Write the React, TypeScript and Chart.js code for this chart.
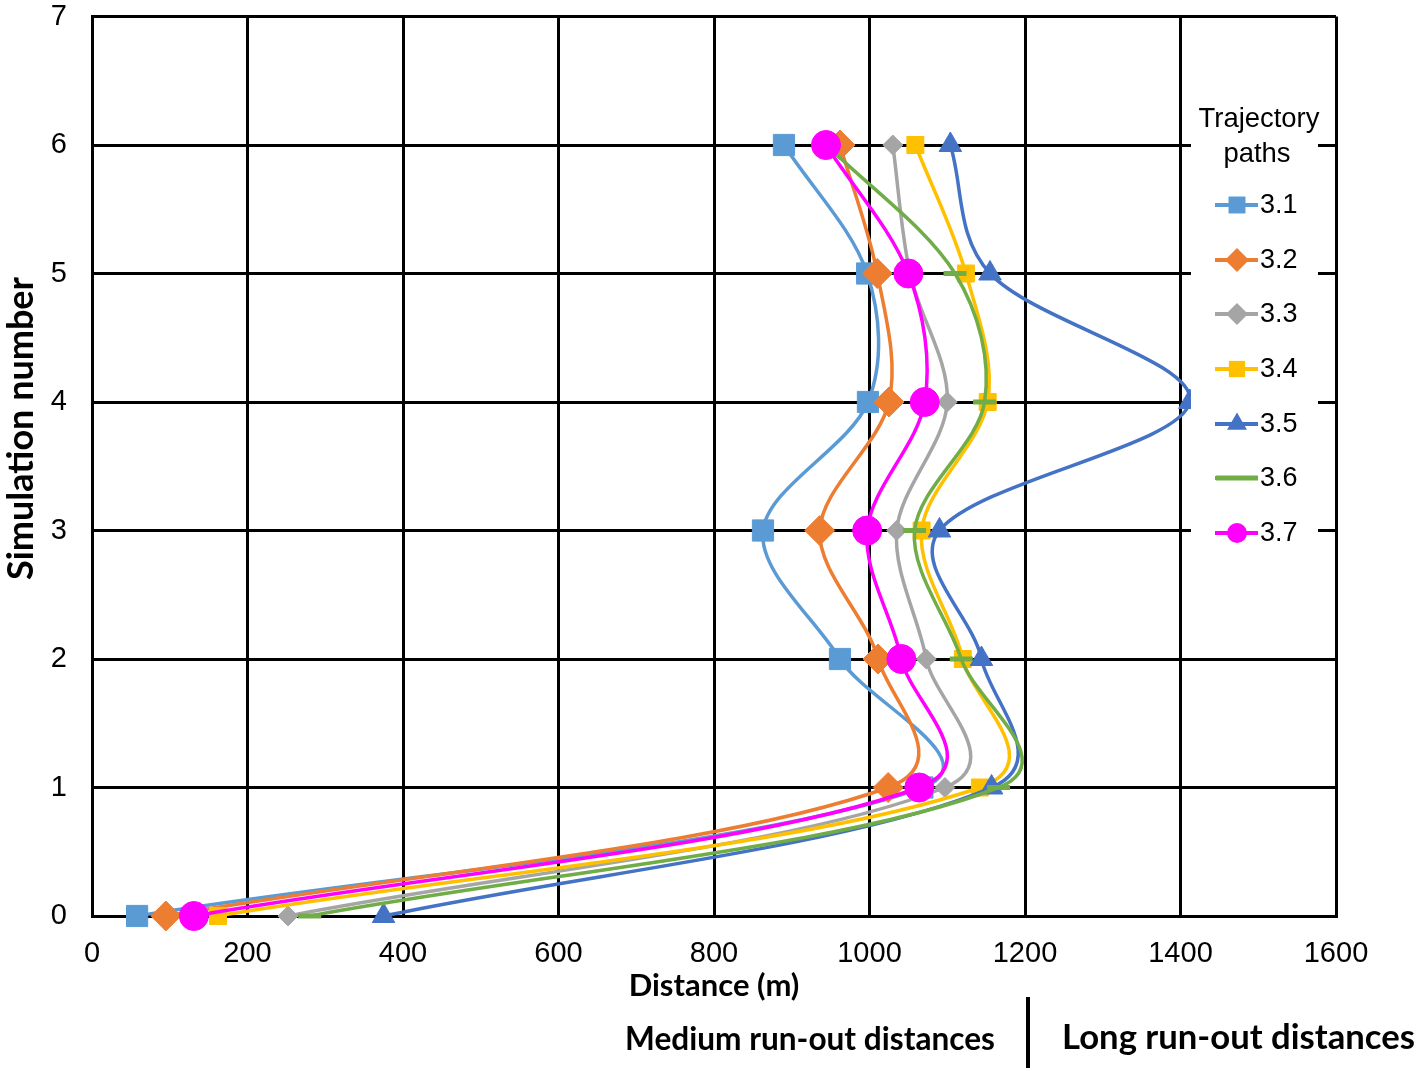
import React, { useEffect, useRef } from 'react';
import { Chart, registerables } from 'chart.js';

Chart.register(...registerables);

// ---- data ----
const simulationNumbers = [0, 1, 2, 3, 4, 5, 6];
const seriesNames = ['3.1', '3.2', '3.3', '3.4', '3.5', '3.6', '3.7'];
const path31 = [58, 1068, 962, 863, 998, 997, 890];
const path32 = [95, 1024, 1011, 936, 1025, 1010, 962];
const path33 = [252, 1097, 1073, 1035, 1100, 1052, 1030];
const path34 = [162, 1142, 1120, 1067, 1152, 1124, 1059];
const path35 = [375, 1157, 1144, 1090, 1412, 1155, 1104];
const path36 = [280, 1166, 1118, 1058, 1148, 1110, 945];
const path37 = [131, 1064, 1041, 997, 1071, 1050, 944];
const xTickValues = [0, 200, 400, 600, 800, 1000, 1200, 1400, 1600];
const yTickValues = [0, 1, 2, 3, 4, 5, 6, 7];

const allPaths = [path31, path32, path33, path34, path35, path36, path37];

// ---- styles ----
const colors = ['#5B9BD5', '#ED7D31', '#A5A5A5', '#FFC000', '#4472C4', '#70AD47', '#FF00FF'];
const pointStyles = ['rect', 'rectRot', 'rectRot', 'rect', 'triangle', 'line', 'circle'];
const pointRadii = [15, 15, 10, 12, 13, 11.5, 14.5];
const legendRadii = [12, 12, 11, 11.5, 11.5, 21, 10];
const SMOOTH = 0.33;

const W = 1418;
const H = 1071;

function drawMarker(ctx: CanvasRenderingContext2D, style: string, x: number, y: number, r: number, color: string) {
  ctx.save();
  ctx.fillStyle = color;
  ctx.strokeStyle = color;
  ctx.beginPath();
  if (style === 'rect') {
    const s = r * Math.SQRT1_2;
    ctx.rect(x - s, y - s, 2 * s, 2 * s);
    ctx.fill();
  } else if (style === 'rectRot') {
    ctx.moveTo(x, y - r);
    ctx.lineTo(x + r, y);
    ctx.lineTo(x, y + r);
    ctx.lineTo(x - r, y);
    ctx.closePath();
    ctx.fill();
  } else if (style === 'triangle') {
    ctx.moveTo(x, y - r);
    ctx.lineTo(x + r * Math.sin(2 * Math.PI / 3), y - r * Math.cos(2 * Math.PI / 3));
    ctx.lineTo(x + r * Math.sin(4 * Math.PI / 3), y - r * Math.cos(4 * Math.PI / 3));
    ctx.closePath();
    ctx.fill();
  } else if (style === 'circle') {
    ctx.arc(x, y, r, 0, Math.PI * 2);
    ctx.fill();
  } else if (style === 'line') {
    ctx.lineWidth = 5;
    ctx.moveTo(x - r, y);
    ctx.lineTo(x + r, y);
    ctx.stroke();
  }
  ctx.restore();
}

function fitText(
  ctx: CanvasRenderingContext2D,
  text: string,
  x: number,
  y: number,
  targetWidth: number,
  weight: string,
  family: string,
) {
  ctx.font = `${weight} 100px ${family}`;
  const w = ctx.measureText(text).width;
  const size = (100 * targetWidth) / w;
  ctx.font = `${weight} ${size.toFixed(2)}px ${family}`;
  ctx.fillText(text, x, y);
}

// Excel-like smoothing: centripetal-weighted control points computed from the
// element positions that Chart.js placed through its scales.
const smoothPlugin = {
  id: 'excelSmooth',
  beforeDatasetsDraw(chart: any) {
    chart.data.datasets.forEach((_ds: any, i: number) => {
      const meta = chart.getDatasetMeta(i);
      const line = meta.dataset;
      const pts = meta.data;
      if (!line || !pts || pts.length < 2) return;
      for (let k = 0; k < pts.length; k++) {
        const p1 = pts[k];
        const p0 = pts[k - 1] || p1;
        const p2 = pts[k + 1] || p1;
        const d01 = Math.sqrt(Math.hypot(p1.x - p0.x, p1.y - p0.y));
        const d12 = Math.sqrt(Math.hypot(p2.x - p1.x, p2.y - p1.y));
        const sum = d01 + d12 || 1;
        const fa = (SMOOTH * d01) / sum;
        const fb = (SMOOTH * d12) / sum;
        const dx = p2.x - p0.x;
        const dy = p2.y - p0.y;
        p1.cp1x = p1.x - fa * dx;
        p1.cp1y = p1.y - fa * dy;
        p1.cp2x = p1.x + fb * dx;
        p1.cp2y = p1.y + fb * dy;
      }
      line._pointsUpdated = true;
      line._path = undefined;
    });
  },
};

const decorPlugin = {
  id: 'decor',
  afterDraw(chart: any) {
    const ctx: CanvasRenderingContext2D = chart.ctx;
    const sans = '"Liberation Sans", Arial, sans-serif';
    const bold = 'Lato, "Liberation Sans", sans-serif';
    ctx.save();
    // Legend box
    ctx.fillStyle = '#ffffff';
    ctx.fillRect(1191, 96, 127, 462);
    ctx.fillStyle = '#000';
    ctx.textAlign = 'center';
    ctx.textBaseline = 'middle';
    fitText(ctx, 'Trajectory', 1259, 119, 121, 'normal', sans);
    ctx.fillText('paths', 1257, 154);
    const rowY = [205, 260, 314, 369, 424, 478, 533];
    seriesNames.forEach((name, i) => {
      const y = rowY[i];
      ctx.save();
      ctx.strokeStyle = colors[i];
      ctx.lineWidth = 4;
      ctx.beginPath();
      ctx.moveTo(1215, y);
      ctx.lineTo(1258, y);
      ctx.stroke();
      ctx.restore();
      drawMarker(ctx, pointStyles[i], 1237, y, legendRadii[i], colors[i]);
      ctx.fillStyle = '#000';
      ctx.textAlign = 'left';
      ctx.font = `27px ${sans}`;
      ctx.fillText(name, 1260, y + 1);
    });

    // Y axis title
    ctx.save();
    ctx.translate(33, 428.5);
    ctx.rotate(-Math.PI / 2);
    ctx.textAlign = 'center';
    ctx.textBaseline = 'alphabetic';
    ctx.fillStyle = '#000';
    fitText(ctx, 'Simulation number', 0, 0, 303, 'bold', bold);
    ctx.restore();

    // Bottom annotations
    ctx.fillStyle = '#000';
    ctx.textAlign = 'center';
    ctx.textBaseline = 'middle';
    fitText(ctx, 'Medium run-out distances', 810, 1040, 370, 'bold', bold);
    fitText(ctx, 'Long run-out distances', 1238.5, 1038, 353, 'bold', bold);
    ctx.strokeStyle = '#000';
    ctx.lineWidth = 4;
    ctx.beginPath();
    ctx.moveTo(1028, 997);
    ctx.lineTo(1028, 1068);
    ctx.stroke();
    ctx.restore();
  },
};

export default function App() {
  const canvasRef = useRef<HTMLCanvasElement | null>(null);

  useEffect(() => {
    if (!canvasRef.current) return;
    const datasets = allPaths.map((vals, i) => ({
      label: seriesNames[i],
      data: simulationNumbers.map((s, j) => ({ x: vals[j], y: s })),
      showLine: true,
      borderColor: colors[i],
      backgroundColor: colors[i],
      borderWidth: 3.5,
      tension: 0.5,
      pointStyle: pointStyles[i],
      pointRadius: pointRadii[i],
      pointHoverRadius: pointRadii[i],
      pointBackgroundColor: colors[i],
      pointBorderColor: colors[i],
      pointBorderWidth: pointStyles[i] === 'line' ? 5 : 1,
      clip: false as any,
      order: allPaths.length - i,
      fill: false,
    }));

    const chart = new Chart(canvasRef.current, {
      type: 'scatter',
      data: { datasets },
      plugins: [smoothPlugin, decorPlugin],
      options: {
        responsive: false,
        animation: false,
        events: [],
        layout: { padding: { left: 0, right: W - 1336, top: 14, bottom: 0 } },
        plugins: {
          legend: { display: false },
          tooltip: { enabled: false },
        },
        scales: {
          x: {
            type: 'linear',
            min: 0,
            max: 1600,
            afterBuildTicks: (scale: any) => {
              scale.ticks = xTickValues.map((v) => ({ value: v }));
            },
            afterFit: (scale: any) => {
              scale.height = H - 916;
            },
            grid: { color: '#000', lineWidth: 3, drawTicks: false },
            border: { display: true, color: '#000', width: 3 },
            ticks: {
              color: '#000',
              padding: 21,
              font: { family: '"Liberation Sans", Arial, sans-serif', size: 29 },
              maxRotation: 0,
              callback: (v: any) => String(v),
            },
            title: {
              display: true,
              text: 'Distance (m)',
              color: '#000',
              font: { family: 'Lato, "Liberation Sans", sans-serif', size: 31, weight: 'bold' },
              padding: { top: 0, bottom: 66 },
            },
          },
          y: {
            type: 'linear',
            min: 0,
            max: 7,
            afterBuildTicks: (scale: any) => {
              scale.ticks = yTickValues.map((v) => ({ value: v }));
            },
            afterFit: (scale: any) => {
              scale.width = 92;
              scale.paddingTop = 0;
              scale.paddingBottom = 0;
            },
            grid: { color: '#000', lineWidth: 3, drawTicks: false },
            border: { display: true, color: '#000', width: 3 },
            ticks: {
              color: '#000',
              padding: 25,
              font: { family: '"Liberation Sans", Arial, sans-serif', size: 29, lineHeight: 0.9 },
              callback: (v: any) => String(v),
            },
          },
        },
      },
    });
    return () => chart.destroy();
  }, []);

  return (
    <div style={{ position: 'absolute', left: 0, top: 0, width: W, height: H, background: '#fff' }}>
      <canvas ref={canvasRef} width={W} height={H} style={{ display: 'block', width: W, height: H }} />
    </div>
  );
}
